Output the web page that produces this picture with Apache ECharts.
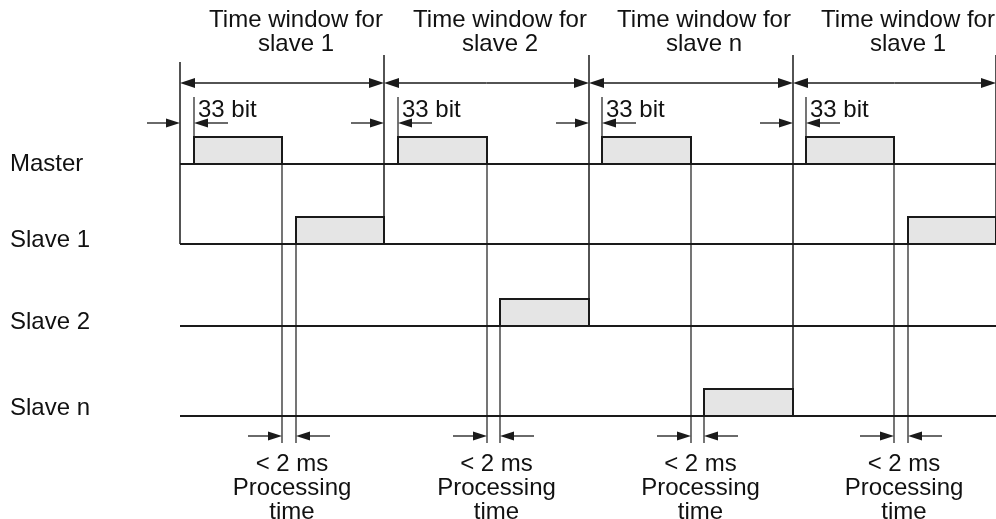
<!DOCTYPE html>
<html>
<head>
<meta charset="utf-8">
<script src="https://cdn.jsdelivr.net/npm/echarts@6/dist/echarts.min.js"></script>
<style>
html, body { margin: 0; padding: 0; background: #fff; }
#chart { width: 996px; height: 519px; }
</style>
</head>
<body>
<div id="chart"></div>
<script>
// diagram data (time axis runs left to right, levels run top to bottom)
const windowEdges = [180, 384, 589, 793, 996]
const windowNames = ['slave 1', 'slave 2', 'slave n', 'slave 1']
const rowNames = ['Master', 'Slave 1', 'Slave 2', 'Slave n']
const rowLevels = [164, 244, 326, 416]
const masterPulses = [[194, 282], [398, 487], [602, 691], [806, 894]]
const slave1Pulses = [[296, 384], [908, 996]]
const slave2Pulses = [[500, 589]]
const slaveNPulses = [[704, 793]]
// row answering in each window, and its pulse
const replyRow = [1, 2, 3, 1]
const replyPulses = [slave1Pulses[0], slave2Pulses[0], slaveNPulses[0], slave1Pulses[1]]
const bitLabel = '33 bit'
const procLabel = ['< 2 ms', 'Processing', 'time']

// layout
const pulseHeight = 27
const windowArrowY = 83
const bitArrowY = 123
const procArrowY = 436
const guideTop = 55
const guideBottom = 443
const font = '24px "Liberation Sans", Arial, sans-serif'
const ink = '#1a1a1a'

const chart = echarts.init(document.getElementById('chart'))

// ---- build mark lists from the data ----
const signals = rowLevels.map(l => [windowEdges[0], l, windowEdges[4], l])

const pulses = []
masterPulses.forEach(p => pulses.push([p[0], p[1], rowLevels[0]]))
slave1Pulses.forEach(p => pulses.push([p[0], p[1], rowLevels[1]]))
slave2Pulses.forEach(p => pulses.push([p[0], p[1], rowLevels[2]]))
slaveNPulses.forEach(p => pulses.push([p[0], p[1], rowLevels[3]]))

// vertical guides [x, yTop, yBottom, width]
const guides = []
windowEdges.forEach((x, i) => {
  const bottom = i === 0 ? rowLevels[1] : rowLevels[replyRow[i - 1]]
  guides.push([x, i === 0 ? guideTop + 7 : guideTop, bottom, 1.5])
})
masterPulses.forEach((p, i) => {
  const top = rowLevels[0] - pulseHeight
  guides.push([p[0], 97, top, 1.2])
  guides.push([p[1], top, guideBottom, 1.2])
  guides.push([replyPulses[i][0], rowLevels[replyRow[i]] - pulseHeight, guideBottom, 1.2])
})

// arrows [xTail, xHead, y, big]
const arrows = []
for (let i = 0; i < 4; i++) {
  const mid = (windowEdges[i] + windowEdges[i + 1]) / 2
  arrows.push([mid, windowEdges[i], windowArrowY, 1])
  arrows.push([mid, windowEdges[i + 1], windowArrowY, 1])
  arrows.push([windowEdges[i] - 33, windowEdges[i], bitArrowY, 0])
  arrows.push([masterPulses[i][0] + 34, masterPulses[i][0], bitArrowY, 0])
  arrows.push([masterPulses[i][1] - 34, masterPulses[i][1], procArrowY, 0])
  arrows.push([replyPulses[i][0] + 34, replyPulses[i][0], procArrowY, 0])
}

// texts [x, y, align] with strings kept alongside
const texts = []
const textStr = []
const winW = windowEdges[1] - windowEdges[0]
masterPulses.forEach((p, i) => {
  const cx = p[0] + winW / 2
  texts.push([cx, 20, 'center']); textStr.push('Time window for')
  texts.push([cx, 44, 'center']); textStr.push(windowNames[i])
  texts.push([p[0] + 4, 110, 'left']); textStr.push(bitLabel)
  const px = (p[1] + replyPulses[i][0]) / 2 + 3
  procLabel.forEach((t, k) => {
    texts.push([px, 464 + k * 24, 'center']); textStr.push(t)
  })
})
const rowLabelShift = [0, 4, 4, 8]
rowNames.forEach((n, i) => {
  texts.push([10, rowLevels[i] - rowLabelShift[i], 'left']); textStr.push(n)
})

function segItem(api, a, b, w) {
  return {
    type: 'line',
    shape: { x1: a[0], y1: a[1], x2: b[0], y2: b[1] },
    style: { stroke: ink, lineWidth: w }
  }
}

chart.setOption({
  animation: false,
  grid: { left: 0, right: 0, top: 0, bottom: 0 },
  xAxis: { type: 'value', min: 0, max: 996, show: false },
  yAxis: { type: 'value', min: 0, max: 519, inverse: true, show: false },
  series: [
    {
      name: 'signals',
      type: 'custom',
      clip: false,
      data: signals,
      renderItem(params, api) {
        const a = api.coord([api.value(0), api.value(1)])
        const b = api.coord([api.value(2), api.value(3)])
        return segItem(api, a, b, 2)
      }
    },
    {
      name: 'pulses',
      type: 'custom',
      clip: false,
      data: pulses,
      renderItem(params, api) {
        const a = api.coord([api.value(0), api.value(2) - pulseHeight])
        const b = api.coord([api.value(1), api.value(2)])
        return {
          type: 'rect',
          shape: { x: a[0], y: a[1], width: b[0] - a[0], height: b[1] - a[1] },
          style: { fill: '#e5e5e5', stroke: ink, lineWidth: 2 }
        }
      }
    },
    {
      name: 'guides',
      type: 'custom',
      clip: false,
      data: guides,
      renderItem(params, api) {
        const a = api.coord([api.value(0), api.value(1)])
        const b = api.coord([api.value(0), api.value(2)])
        return segItem(api, a, b, api.value(3))
      }
    },
    {
      name: 'arrows',
      type: 'custom',
      clip: false,
      data: arrows,
      renderItem(params, api) {
        const t = api.coord([api.value(0), api.value(2)])
        const h = api.coord([api.value(1), api.value(2)])
        const big = api.value(3) === 1
        const len = big ? 15 : 14
        const half = big ? 5 : 4.5
        const dir = h[0] > t[0] ? 1 : -1
        return {
          type: 'group',
          children: [
            segItem(api, t, [h[0] - dir * len * 0.5, h[1]], 1.3),
            {
              type: 'polygon',
              shape: { points: [[h[0], h[1]], [h[0] - dir * len, h[1] - half], [h[0] - dir * len, h[1] + half]] },
              style: { fill: ink }
            }
          ]
        }
      }
    },
    {
      name: 'texts',
      type: 'custom',
      clip: false,
      data: texts.map(t => [t[0], t[1]]),
      renderItem(params, api) {
        const p = api.coord([api.value(0), api.value(1)])
        return {
          type: 'text',
          style: {
            x: p[0], y: p[1],
            text: textStr[params.dataIndex],
            align: texts[params.dataIndex][2],
            verticalAlign: 'middle',
            font: font,
            fill: '#111'
          }
        }
      }
    }
  ]
})
</script>
</body>
</html>
